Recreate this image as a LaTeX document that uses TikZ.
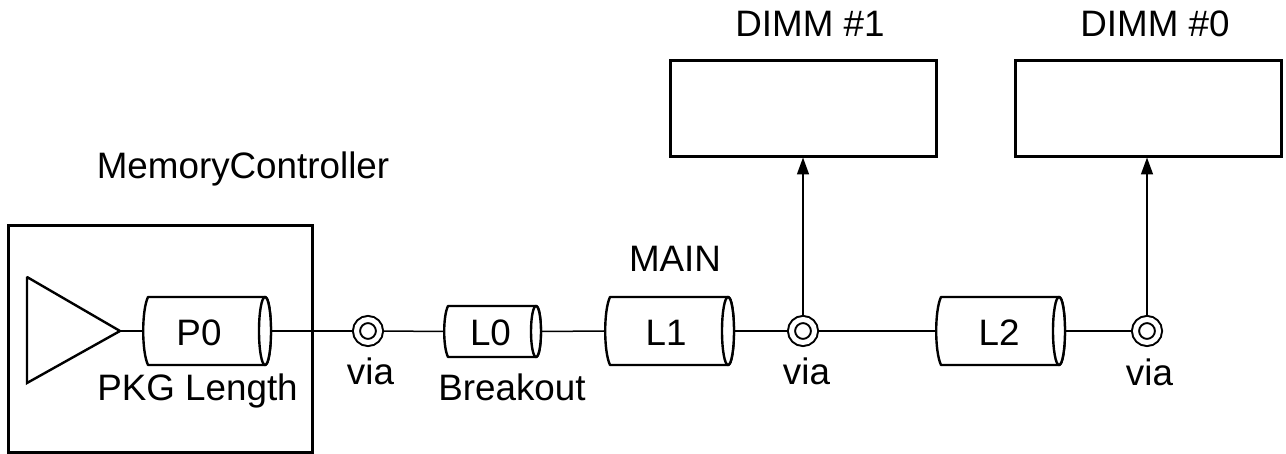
\documentclass[tikz,border=0pt]{standalone}
\usepackage{fontspec}
\setmainfont{Liberation Sans}
\usetikzlibrary{arrows.meta}
\tikzset{
  x=1pt,y=-1pt,
  txt/.style={inner sep=0pt,outer sep=0pt,anchor=base,font=\fontsize{36.8}{40}\selectfont,text=black},
  thick box/.style={draw=black,line width=3pt,inner sep=0pt,outer sep=0pt,anchor=north west,fill=white},
  wire/.style={draw=black,line width=1.5pt},
  arrowwire/.style={wire,-{Triangle[length=17pt,width=12pt]},shorten >=0.5pt},
  cylbody/.style={draw=black,line width=2.4pt,line join=round,fill=white},
  ghost/.style={inner sep=0pt,outer sep=0pt,anchor=center},
  viahole/.style={circle,draw=black,line width=2pt,double=white,double distance=5pt,fill=white,
    minimum size=23pt,inner sep=0pt,outer sep=4pt}
}
% name, left, right, top, bottom, ellipse rx, label x, label
\newcommand{\cylnode}[8]{%
  \pgfmathsetmacro{\cx}{(#2+#3)/2}\pgfmathsetmacro{\cy}{(#4+#5)/2}%
  \pgfmathsetmacro{\cw}{#3-#2}\pgfmathsetmacro{\ch}{#5-#4}%
  \pgfmathsetmacro{\ex}{#3-#6-1}\pgfmathsetmacro{\hh}{\ch/2}%
  \pgfmathsetmacro{\lx}{#2+#6}%
  \pgfmathsetmacro{\ctl}{\lx-(#6-1.2)*1.333}%
  \path[cylbody] (\ex,#4) -- (\lx,#4) .. controls (\ctl,#4+\ch*0.2) and (\ctl,#5-\ch*0.2) .. (\lx,#5) -- (\ex,#5)
     .. controls (\ex+#6*1.3,#5) and (\ex+#6*1.3,#4) .. (\ex,#4) -- cycle;
  \path[cylbody] (\ex,\cy) ellipse [x radius=#6,y radius=\hh];
  \node[ghost,minimum width=\cw pt,minimum height=\ch pt] (#1) at (\cx,\cy) {};
  \node[txt] (#1label) at (#7,346) {#8};%
}
\begin{document}
\begin{tikzpicture}
\path[use as bounding box,fill=white] (0,0) rectangle (1286,454);
% boxes
\node[thick box,minimum width=304pt,minimum height=226pt] (mc) at (8,226) {};
\node[thick box,minimum width=266pt,minimum height=96pt] (dimmb) at (670,61) {};
\node[thick box,minimum width=266pt,minimum height=96pt] (dimma) at (1015,61) {};
% driver triangle
\coordinate (tip) at (120,331);
\draw[draw=black,line width=2.4pt,line join=miter,miter limit=2] (27,277) -- (tip) -- (27,383) -- cycle;
% transmission lines
\cylnode{pz}{142}{272}{297}{365}{6}{199}{P0}
\cylnode{lz}{443}{542}{306}{357}{5}{490.5}{L0}
\cylnode{la}{604}{735}{297}{365}{6}{666}{L1}
\cylnode{lb}{935}{1066}{297}{365}{6}{999}{L2}
% vias
\node[viahole] (va) at (368,331) {};
\node[viahole] (vb) at (803,331) {};
\node[viahole] (vc) at (1147,331) {};
% connectors
\draw[wire] (tip) -- (pz.west);
\draw[wire] (pz.east) -- (va.west);
\draw[wire] (va.east) -- (lz.west);
\draw[wire] (lz.east) -- (la.west);
\draw[wire] (la.east) -- (vb.west);
\draw[wire] (vb.east) -- (lb.west);
\draw[wire] (lb.east) -- (vc.west);
\draw[arrowwire] (vb.north) -- (vb.north |- dimmb.south);
\draw[arrowwire] (vc.north) -- (vc.north |- dimma.south);
% labels
\node[txt] (tmc) at (243,178.5) {MemoryController};
\node[txt] (tda) at (810,37) {DIMM \#1};
\node[txt] (tdb) at (1155,37) {DIMM \#0};
\node[txt] (tmain) at (675,272) {MAIN};
\node[txt] (tpkg) at (197.5,400) {PKG Length};
\node[txt] (tbrk) at (512,401) {Breakout};
\node[txt] (tva) at (370.5,384.5) {via};
\node[txt] (tvb) at (806.5,384.5) {via};
\node[txt] (tvc) at (1149.5,385.5) {via};
\end{tikzpicture}
\end{document}
